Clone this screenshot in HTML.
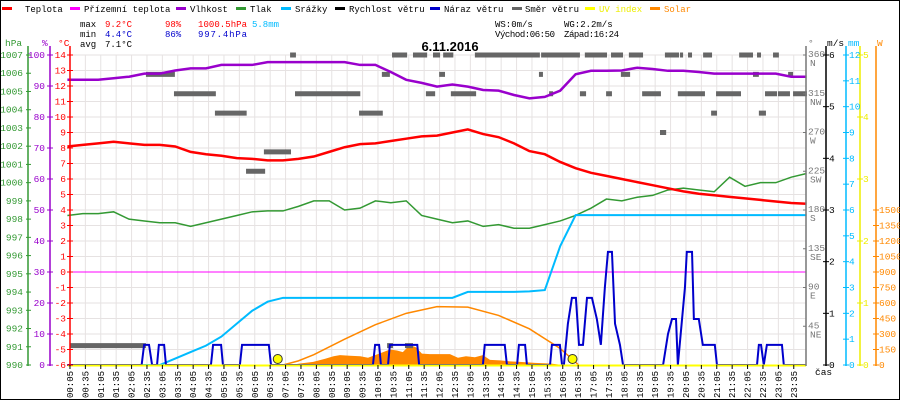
<!DOCTYPE html>
<html><head><meta charset="utf-8"><style>
html,body{margin:0;padding:0;background:#fff}
svg{display:block;font-family:"Liberation Mono",monospace}
</style></head><body>
<svg id="chart" width="900" height="400" viewBox="0 0 900 400" xmlns="http://www.w3.org/2000/svg">
<rect x="0.5" y="0.5" width="899" height="399" fill="#fff" stroke="#000"/>
<g id="grid"></g>
<g id="marks"></g>
<g id="axes"></g>
<g id="legend" font-size="9">
  <rect x="2" y="7" width="10" height="3" fill="#f00"/><text x="25" y="12">Teplota</text>
  <rect x="70" y="7" width="10" height="3" fill="#f0f"/><text x="84" y="12">Přízemní teplota</text>
  <rect x="176" y="7" width="10" height="3" fill="#90c"/><text x="190" y="12">Vlhkost</text>
  <rect x="236" y="7" width="10" height="3" fill="#393"/><text x="250" y="12">Tlak</text>
  <rect x="281" y="7" width="10" height="3" fill="#0bf"/><text x="295" y="12">Srážky</text>
  <rect x="335" y="7" width="10" height="3" fill="#000"/><text x="349" y="12">Rychlost větru</text>
  <rect x="430" y="7" width="10" height="3" fill="#00c"/><text x="444" y="12">Náraz větru</text>
  <rect x="512" y="7" width="10" height="3" fill="#666"/><text x="525" y="12">Směr větru</text>
  <rect x="585" y="7" width="10" height="3" fill="#ff0"/><text x="599" y="12" fill="#ee0">UV index</text>
  <rect x="650" y="7" width="10" height="3" fill="#f80"/><text x="664" y="12" fill="#f80">Solar</text>
</g>
<g id="stats" font-size="9">
  <text x="80" y="27">max</text><text x="105" y="27" fill="#f00">9.2°C</text><text x="165" y="27" fill="#f00">98%</text><text x="198" y="27" fill="#f00" textLength="49">1000.5hPa</text><text x="252" y="27" fill="#0bf">5.8mm</text>
  <text x="80" y="37">min</text><text x="105" y="37" fill="#00c">4.4°C</text><text x="165" y="37" fill="#00c">86%</text><text x="198" y="37" fill="#00c" textLength="49">997.4hPa</text>
  <text x="80" y="47">avg</text><text x="105" y="47">7.1°C</text>
  <text x="495" y="27">WS:0m/s</text><text x="564" y="27">WG:2.2m/s</text>
  <text x="495" y="37" textLength="60">Východ:06:50</text><text x="564" y="37" textLength="55">Západ:16:24</text>
</g>
<text x="450" y="51" text-anchor="middle" font-family="Liberation Sans,sans-serif" font-weight="bold" font-size="13">6.11.2016</text>
</svg>
<script>
const tempC = [8.1,8.2,8.3,8.4,8.3,8.2,8.2,8.1,7.75,7.6,7.5,7.35,7.3,7.2,7.2,7.3,7.45,7.75,8.05,8.25,8.3,8.45,8.6,8.75,8.8,9.0,9.2,8.9,8.7,8.3,7.8,7.6,7.1,6.7,6.4,6.2,6.0,5.8,5.6,5.4,5.2,5.05,4.95,4.85,4.75,4.65,4.55,4.45,4.4];
const humidity = [92,92,92,92.5,93,94,94,95,95.7,95.7,96.8,96.8,96.8,97.7,97.7,97.7,97.7,97.7,97.7,96.8,96.8,94.5,92,91,89.8,90.5,89.8,88.7,88.5,87.1,86,86.5,88.5,93.8,94.9,94.9,95,95.9,95.5,94.9,94.9,94.5,94,94,94,94,94,93,93];
const pressure = [998.2,998.3,998.3,998.4,998.0,997.9,997.8,997.8,997.6,997.8,998.0,998.2,998.4,998.45,998.45,998.7,999.0,999.0,998.5,998.6,999.0,998.9,999.0,998.2,998.0,997.8,997.9,997.6,997.7,997.5,997.5,997.7,997.9,998.2,998.6,999.1,999.0,999.2,999.3,999.6,999.7,999.6,999.5,1000.3,999.8,1000.0,1000.0,1000.3,1000.5];
const rainMm = [0,0,0,0,0,0,0,0.25,0.5,0.75,1.1,1.6,2.1,2.45,2.6,2.6,2.6,2.6,2.6,2.6,2.6,2.6,2.6,2.6,2.6,2.6,2.83,2.83,2.83,2.83,2.85,2.9,4.6,5.8,5.8,5.8,5.8,5.8,5.8,5.8,5.8,5.8,5.8,5.8,5.8,5.8,5.8,5.8,5.8];
const gustTimes = [0,2.41,2.49,2.65,2.75,2.91,2.97,3.14,3.20,4.66,4.73,4.99,5.05,5.60,5.67,6.54,6.61,9.92,9.99,10.12,10.18,10.41,10.47,11.36,11.42,13.49,13.55,14.20,14.27,14.60,14.66,14.86,14.92,15.67,15.73,15.99,16.06,16.12,16.25,16.38,16.51,16.61,16.74,16.87,17.03,17.19,17.32,17.45,17.55,17.68,17.78,17.94,18.04,19.34,19.50,19.63,19.76,19.82,20.05,20.11,20.28,20.34,20.50,20.63,21.02,21.09,22.39,22.45,22.52,22.61,22.71,23.20,23.26,23.98];
const gustValues = [0,0,0.39,0.39,0,0,0.39,0.39,0,0,0.39,0.39,0,0,0.39,0.39,0,0,0.39,0.39,0,0,0.39,0.39,0,0,0.39,0.39,0,0,0.39,0.39,0,0,0.39,0.39,0,0,0.8,1.3,1.3,0.39,0.39,1.3,1.3,0.89,0.39,1.5,2.19,2.19,0.8,0.39,0,0,0.6,0.89,0.89,0,1.5,2.19,2.19,0.89,0.89,0.39,0.39,0,0,0.39,0.39,0,0.39,0.39,0,0];
const dirStart = [0.08,2.55,3.46,4.79,5.80,6.38,7.23,7.39,9.47,10.21,10.38,10.54,10.96,11.22,11.64,11.87,12.07,12.20,12.45,13.23,15.31,15.38,15.64,16.64,16.80,17.49,17.65,17.97,18.23,18.66,19.24,19.40,19.82,19.89,20.15,20.64,20.90,21.06,21.81,22.26,22.39,22.45,22.65,22.91,23.07,23.40,23.56];
const dirEnd   = [2.55,3.49,4.82,5.82,6.42,7.26,7.42,9.51,10.24,10.47,10.57,11.03,11.22,11.68,11.94,12.10,12.26,12.53,13.27,15.34,15.44,16.64,15.77,16.84,17.52,17.68,18.04,18.27,18.69,19.27,19.44,19.86,20.70,19.99,20.28,20.93,21.09,21.87,22.26,22.45,22.52,22.68,23.04,23.10,23.46,23.56,24.01];
const dirValues= [22.5,337.5,315,292.5,225,247.5,360,315,292.5,337.5,22.5,360,22.5,360,315,360,337.5,360,315,360,337.5,360,315,315,360,315,360,337.5,360,315,270,360,315,360,360,360,292.5,315,360,337.5,360,292.5,315,360,315,337.5,315];
const solarTimes = [7.23,7.55,7.98,8.37,8.64,8.85,9.17,9.51,9.76,9.99,10.21,10.47,10.70,10.89,11.12,11.32,11.51,11.77,12.10,12.42,12.68,12.94,13.23,13.49,13.72,14.05,14.37,14.69,15.18,15.67,16.09];
const solarValues = [0,15,30,60,85,95,90,85,70,95,120,150,140,125,195,170,110,105,105,105,70,85,75,95,50,45,35,30,20,15,0];
const sunCurveTimes = [7.0,7.5,8,9,10,11,12,13,14,15,16,16.6];
const sunCurveValues = [0,40,100,250,390,500,565,560,480,350,160,0];
const sunEvents = [6.83,16.4];
const timeLabels = [];
for (let i=0;i<48;i++){const m=5+i*30;timeLabels.push(String(Math.floor(m/60)).padStart(2,'0')+':'+String(m%60).padStart(2,'0'));}
const hpaTicks=[990,991,992,993,994,995,996,997,998,999,1000,1001,1002,1003,1004,1005,1006,1007];
const pctTicks=[0,10,20,30,40,50,60,70,80,90,100];
const dirTicks=[45,90,135,180,225,270,315,360];
const dirNames=['NE','E','SE','S','SW','W','NW','N'];
const msTicks=[0,1,2,3,4,5,6];
const mmTicks=[0,1,2,3,4,5,6,7,8,9,10,11,12];
const uvTicks=[0,1,2,3,4,5];
const wTicks=[0,150,300,450,600,750,900,1050,1200,1350,1500];

const NS='http://www.w3.org/2000/svg';
const xT=h=>67.4+h*30.8;
const yC=c=>272-c*15.5;
const yH=h=>365-h*3.1;
const yP=p=>365-(p-990)*18.235;
const yD=d=>365-d*0.8611;
const yWs=v=>365-v*51.667;
const yR=m=>365-m*25.833;
const yS=w=>365-w*0.10333;
const yUV=u=>365-u*62;
function mk(tag,attrs,parent,txt){const e=document.createElementNS(NS,tag);for(const k in attrs)e.setAttribute(k,attrs[k]);if(txt!==undefined)e.textContent=txt;parent.appendChild(e);return e;}
const grid=document.getElementById('grid'),marks=document.getElementById('marks'),axes=document.getElementById('axes');

for(let c=-6;c<=14;c++){mk('line',{x1:70,x2:806,y1:yC(c),y2:yC(c),stroke:'#e6e2e2'},grid);}
for(let i=0;i<48;i++){const x=xT((5+i*30)/60);mk('line',{x1:x,x2:x,y1:55,y2:365,stroke:'#e6e2e2'},grid);}

let pts=solarTimes.map((t,i)=>xT(t)+','+yS(solarValues[i])).join(' ');
let e=mk('polygon',{points:xT(solarTimes[0])+',365 '+pts+' '+xT(solarTimes[solarTimes.length-1])+',365',fill:'#f80'},marks);


e=mk('polyline',{points:sunCurveTimes.map((t,i)=>xT(t)+','+yS(sunCurveValues[i])).join(' '),fill:'none',stroke:'#f80','stroke-width':1.5},marks);


e=mk('line',{x1:70,x2:806,y1:yC(0),y2:yC(0),stroke:'#f0f'},marks);


dirValues.forEach((d,i)=>{const el=mk('rect',{x:xT(dirStart[i]),y:yD(d)-2.5,width:Math.max(2,xT(dirEnd[i])-xT(dirStart[i])),height:5,fill:'#666'},marks);

});
function line(vals,yf,color,w,name){const el=mk('polyline',{points:vals.map((v,i)=>xT(i*0.5)+','+yf(v)).join(' '),fill:'none',stroke:color,'stroke-width':w},marks);

}
line(pressure,yP,'#393',1.5,'pressure-line');
line(humidity,yH,'#90c',2.5,'humidity-line');
line(tempC,yC,'#f00',2.5,'temperature-line');
line(rainMm,yR,'#0bf',2,'rain-line');
e=mk('polyline',{points:gustTimes.map((t,i)=>xT(t)+','+yWs(gustValues[i])).join(' '),fill:'none',stroke:'#00c','stroke-width':2},marks);


e=mk('line',{x1:68,x2:806,y1:365.5,y2:365.5,stroke:'#ff0','stroke-width':2},marks);


sunEvents.forEach(t=>{const el=mk('circle',{cx:xT(t),cy:359,r:4.5,fill:'#ff0',stroke:'#333'},marks);

});

function vaxis(x,color,name){const el=mk('line',{x1:x,x2:x,y1:46,y2:366,stroke:color,'stroke-width':1.5},axes);

}
vaxis(28,'#393','pressure-axis');vaxis(50,'#90c','humidity-axis');vaxis(70,'#f00','temperature-axis');
vaxis(806,'#777','direction-axis');vaxis(826,'#000','wind-axis');vaxis(846,'#0bf','rain-axis');vaxis(860,'#ee0','uv-axis');vaxis(876,'#f80','solar-axis');
const fs=9.5;
function lab(x,y,t,color,anchor){mk('text',{x:x,y:y+3,fill:color,'font-size':fs,'text-anchor':anchor||'start'},axes,t);}
lab(5,43,'hPa','#393');lab(42,43,'%','#90c');lab(58,43,'°C','#f00');
lab(808,43,'°','#777');lab(827,43,'m/s','#000');lab(848,43,'mm','#0bf');lab(877,43,'W','#f80');
hpaTicks.forEach(p=>{mk('line',{x1:26,x2:31,y1:yP(p),y2:yP(p),stroke:'#393'},axes);lab(23,yP(p),String(p),'#393','end');});
pctTicks.forEach(p=>{mk('line',{x1:47,x2:53,y1:yH(p),y2:yH(p),stroke:'#90c'},axes);lab(45,yH(p),String(p),'#90c','end');});
for(let c=-6;c<=14;c++){mk('line',{x1:67,x2:73,y1:yC(c),y2:yC(c),stroke:'#f00'},axes);lab(66,yC(c),String(c),'#f00','end');}
dirTicks.forEach((d,i)=>{mk('line',{x1:803,x2:806,y1:yD(d),y2:yD(d),stroke:'#777'},axes);lab(808,yD(d)-1,String(d),'#777');lab(810,yD(d)+8,dirNames[i],'#777');});
msTicks.forEach(v=>{mk('line',{x1:823,x2:829,y1:yWs(v),y2:yWs(v),stroke:'#000'},axes);lab(829,yWs(v),String(v),'#000');});
mmTicks.forEach(v=>{mk('line',{x1:843,x2:849,y1:yR(v),y2:yR(v),stroke:'#0bf'},axes);lab(849,yR(v),String(v),'#0bf');});
uvTicks.forEach(v=>{mk('line',{x1:857,x2:863,y1:yUV(v),y2:yUV(v),stroke:'#ee0'},axes);lab(863,yUV(v),String(v),'#ee0');});
wTicks.forEach(v=>{mk('line',{x1:873,x2:879,y1:yS(v),y2:yS(v),stroke:'#f80'},axes);lab(879,yS(v),String(v),'#f80');});
timeLabels.forEach((t,i)=>{const x=xT((5+i*30)/60);mk('line',{x1:x,x2:x,y1:365,y2:369,stroke:'#000'},axes);
const el=mk('text',{x:0,y:0,'font-size':9,transform:`translate(${x+3},398) rotate(-90)`},axes,t);

});
lab(815,372,'čas','#000');
</script>
</body></html>
